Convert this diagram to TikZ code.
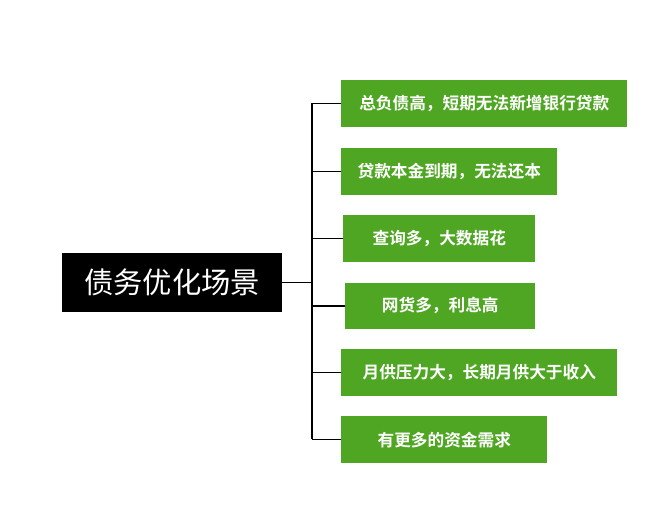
\documentclass[tikz,border=0pt]{standalone}
\usepackage{fontspec}
\newfontfamily\cjk{Noto Sans CJK SC}
\newfontfamily\cjkbold{Noto Sans CJK SC Bold}
\usepackage{xcolor}
\definecolor{leafgreen}{HTML}{4FA623}

\begin{document}
\begin{tikzpicture}[x=0.75pt, y=-0.75pt,
    rootbox/.style = {fill=black, text=white, inner sep=0pt, font=\cjk\fontsize{22}{26}\selectfont},
    leafbox/.style = {fill=leafgreen, text=white, inner sep=0pt, anchor=north west, font=\cjkbold\fontsize{12.5}{15}\selectfont},
    branch/.style = {draw=black, line width=1.1pt}]
      \useasboundingbox[fill=white] (0, 0) rectangle (660, 523);
      \node [rootbox, minimum width=165pt, minimum height=44pt] (root) at (172, 282.5) {债务优化场景};
      \node [leafbox, minimum width=214.5pt, minimum height=35pt] (debt) at (341, 80) {总负债高，短期无法新增银行贷款};
      \node [leafbox, minimum width=162pt, minimum height=35pt] (due) at (341, 148) {贷款本金到期，无法还本};
      \node [leafbox, minimum width=144pt, minimum height=35pt] (query) at (343, 215) {查询多，大数据花};
      \node [leafbox, minimum width=142.5pt, minimum height=34pt] (loans) at (345, 283) {网货多，利息高};
      \node [leafbox, minimum width=207pt, minimum height=35pt] (monthly) at (341, 349) {月供压力大，长期月供大于收入};
      \node [leafbox, minimum width=154.5pt, minimum height=35pt] (fund) at (341, 416) {有更多的资金需求};
      \coordinate (spinetop) at (312, 103.5);
      \coordinate (spinebot) at (312, 439.5);
      \draw [branch] (spinetop) -- (spinebot);
      \draw [branch] (root.east) -- (root.east -| spinetop);
      \draw [branch] (debt.west) -- (debt.west -| spinetop);
      \draw [branch] (due.west) -- (due.west -| spinetop);
      \draw [branch] (query.west) -- (query.west -| spinetop);
      \draw [branch] (loans.west) -- (loans.west -| spinetop);
      \draw [branch] (monthly.west) -- (monthly.west -| spinetop);
      \draw [branch] (fund.west) -- (fund.west -| spinetop);
\end{tikzpicture}
\end{document}
